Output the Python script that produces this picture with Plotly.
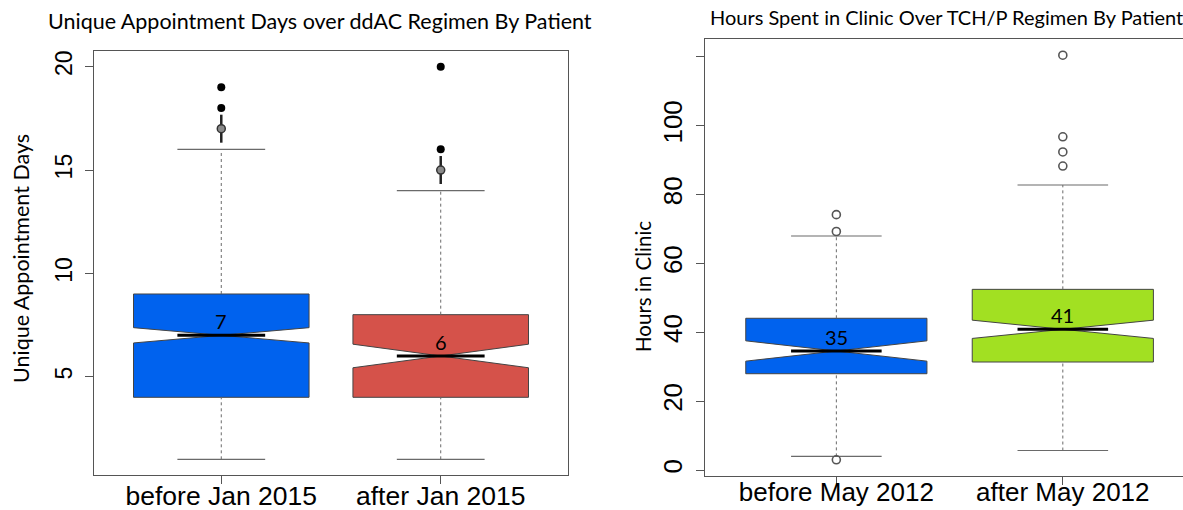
import plotly.graph_objects as go

W, H = 1183, 510

# ---- Unique appointment days over the ddAC regimen ----
ddac_groups = ["before Jan 2015", "after Jan 2015"]
ddac_q1 = [4, 4]
ddac_median = [7, 6]
ddac_q3 = [9, 8]
ddac_notch = [0.37, 0.57]
ddac_low_whisker = [1, 1]
ddac_high_whisker = [16, 14]
ddac_outliers = [[18, 19], [16, 20]]
ddac_outliers_stacked = [[17], [15]]
ddac_colors = ["#0062EE", "#D5524A"]
ddac_ticks = [5, 10, 15, 20]

# ---- Hours in clinic over the TCH/P regimen ----
tchp_groups = ["before May 2012", "after May 2012"]
tchp_q1 = [28, 31.4]
tchp_median = [34.6, 40.9]
tchp_q3 = [44.1, 52.5]
tchp_notch = [2.95, 2.65]
tchp_low_whisker = [4, 5.7]
tchp_high_whisker = [68, 82.8]
tchp_outliers = [[3, 69.3, 74.2], [88.3, 92.4, 96.8, 120.5]]
tchp_colors = ["#0062EE", "#A2E022"]
tchp_ticks = [0, 20, 40, 60, 80, 100, 120]
tchp_ticklabels = ["0", "20", "40", "60", "80", "100", ""]

BOX_W = 0.8          # boxwex
NOTCH_FRAC = 0.5     # notch narrows the box to half its width
STAPLE_FRAC = 0.5    # whisker caps are half the box width
FRAME = "#555555"
WHISKER = "#6a6a6a"
LABEL_FONT = "Lato"
AXIS_FONT = "Liberation Sans"


def r_range(values):
    lo, hi = min(values), max(values)
    pad = 0.04 * (hi - lo)
    return [lo - pad, hi + pad]


fig = go.Figure()


def add_panel(xa, ya, q1, med, q3, notch, lw, hw, colors):
    for i in range(len(q1)):
        pos = i + 1
        # dashed whiskers, behind the box
        for a, b in ((q3[i], hw[i]), (lw[i], q1[i])):
            fig.add_trace(go.Scatter(
                x=[pos, pos], y=[a, b], mode="lines", xaxis=xa, yaxis=ya,
                line=dict(color=WHISKER, width=1, dash="3px,3px"),
                hoverinfo="skip", showlegend=False))
        # caps
        for v in (lw[i], hw[i]):
            half = BOX_W / 2 * STAPLE_FRAC
            fig.add_trace(go.Scatter(
                x=[pos - half, pos + half], y=[v, v], mode="lines",
                xaxis=xa, yaxis=ya, line=dict(color=WHISKER, width=1.2),
                hoverinfo="skip", showlegend=False))
        # notched box
        fig.add_trace(go.Box(
            x=[pos], q1=[q1[i]], median=[med[i]], q3=[q3[i]],
            lowerfence=[q1[i]], upperfence=[q3[i]],
            notched=True, notchspan=[notch[i]], notchwidth=NOTCH_FRAC,
            width=BOX_W, whiskerwidth=0, boxpoints=False,
            fillcolor=colors[i], line=dict(color="#444444", width=1),
            xaxis=xa, yaxis=ya, hoverinfo="skip", showlegend=False))
        # heavy median line
        half = BOX_W / 2 * NOTCH_FRAC
        fig.add_trace(go.Scatter(
            x=[pos - half, pos + half], y=[med[i], med[i]], mode="lines",
            xaxis=xa, yaxis=ya, line=dict(color="black", width=3),
            hoverinfo="skip", showlegend=False))
        fig.add_annotation(
            x=pos, y=med[i], xref=xa, yref=ya, text=f"{med[i]:.0f}",
            showarrow=False, yanchor="bottom",
            font=dict(family=LABEL_FONT, size=20, color="black"))


add_panel("x", "y", ddac_q1, ddac_median, ddac_q3, ddac_notch,
          ddac_low_whisker, ddac_high_whisker, ddac_colors)
add_panel("x2", "y2", tchp_q1, tchp_median, tchp_q3, tchp_notch,
          tchp_low_whisker, tchp_high_whisker, tchp_colors)

# outliers, ddAC: stacked points drawn as a grey dot with a bar through it
for i in range(len(ddac_groups)):
    pos = i + 1
    fig.add_trace(go.Scatter(
        x=[pos] * len(ddac_outliers_stacked[i]), y=ddac_outliers_stacked[i],
        mode="markers", xaxis="x", yaxis="y",
        marker=dict(symbol="line-ns", size=20,
                    line=dict(color="#222222", width=2.5)),
        hoverinfo="skip", showlegend=False))
    fig.add_trace(go.Scatter(
        x=[pos] * len(ddac_outliers_stacked[i]), y=ddac_outliers_stacked[i],
        mode="markers", xaxis="x", yaxis="y",
        marker=dict(symbol="circle", size=8, color="#8a8a8a",
                    line=dict(color="#333333", width=1.5)),
        hoverinfo="skip", showlegend=False))
    fig.add_trace(go.Scatter(
        x=[pos] * len(ddac_outliers[i]), y=ddac_outliers[i],
        mode="markers", xaxis="x", yaxis="y",
        marker=dict(symbol="circle", size=8, color="black"),
        hoverinfo="skip", showlegend=False))

# outliers, TCH/P: open circles
for i in range(len(tchp_groups)):
    pos = i + 1
    fig.add_trace(go.Scatter(
        x=[pos] * len(tchp_outliers[i]), y=tchp_outliers[i],
        mode="markers", xaxis="x2", yaxis="y2",
        marker=dict(symbol="circle-open", size=8, color="#555555",
                    line=dict(width=1.6)),
        hoverinfo="skip", showlegend=False))

ddac_all = ddac_low_whisker + ddac_high_whisker + sum(ddac_outliers, []) + sum(ddac_outliers_stacked, [])
tchp_all = tchp_low_whisker + tchp_high_whisker + sum(tchp_outliers, [])


def px_x(p):
    return p / W


def px_y(p):
    return 1 - p / H


axis_common = dict(showline=True, linecolor=FRAME, linewidth=1.2,
                   ticks="outside", ticklen=8, tickcolor=FRAME, tickwidth=1.2,
                   showgrid=False, zeroline=False, automargin=False)

left_px_per_unit = (568 - 94) / 2.16
right_px_per_unit = left_px_per_unit * 1.032
right_x_hi = 0.42 + (W - 705) / right_px_per_unit

fig.update_layout(
    width=W, height=H, margin=dict(l=0, r=0, t=0, b=0),
    paper_bgcolor="white", plot_bgcolor="white", showlegend=False,
    xaxis=dict(domain=[px_x(94), px_x(568)], range=[0.42, 2.58],
               tickvals=[1, 2], ticktext=ddac_groups, mirror=True,
               tickfont=dict(family=AXIS_FONT, size=26.5, color="black"),
               ticklabelstandoff=-11, anchor="y", **axis_common),
    yaxis=dict(domain=[px_y(475), px_y(51)], range=r_range(ddac_all),
               tickvals=ddac_ticks, tickangle=-90, mirror=True,
               tickfont=dict(family=AXIS_FONT, size=23, color="black"),
               ticklabelstandoff=4, anchor="x", **axis_common),
    xaxis2=dict(domain=[px_x(705), 1], range=[0.42, right_x_hi],
                tickvals=[1, 2], ticktext=tchp_groups, mirror=True,
                tickfont=dict(family=AXIS_FONT, size=26, color="black"),
                ticklabelstandoff=-15, anchor="y2", **axis_common),
    yaxis2=dict(domain=[px_y(476), px_y(39)], range=r_range(tchp_all),
                tickvals=tchp_ticks, ticktext=tchp_ticklabels, tickangle=-90,
                mirror=False,
                tickfont=dict(family=AXIS_FONT, size=26, color="black"),
                ticklabelstandoff=4, anchor="x2", **axis_common),
)

fig.add_annotation(text="Unique Appointment Days over ddAC Regimen By Patient",
                   xref="paper", yref="paper", x=px_x(320), y=px_y(21),
                   xanchor="center", yanchor="middle", showarrow=False,
                   font=dict(family=LABEL_FONT, size=21.5, color="black"))
fig.add_annotation(text="Hours Spent in Clinic Over TCH/P Regimen By Patient",
                   xref="paper", yref="paper", x=px_x(708), y=px_y(17),
                   xanchor="left", yanchor="middle", showarrow=False,
                   font=dict(family=LABEL_FONT, size=20, color="black"))
fig.add_annotation(text="Unique Appointment Days", textangle=-90,
                   xref="paper", yref="paper", x=px_x(21), y=px_y(259),
                   xanchor="center", yanchor="middle", showarrow=False,
                   font=dict(family=LABEL_FONT, size=21.5, color="black"))
fig.add_annotation(text="Hours in Clinic", textangle=-90,
                   xref="paper", yref="paper", x=px_x(643), y=px_y(287),
                   xanchor="center", yanchor="middle", showarrow=False,
                   font=dict(family=LABEL_FONT, size=20.5, color="black"))

fig.write_html("out.html")
